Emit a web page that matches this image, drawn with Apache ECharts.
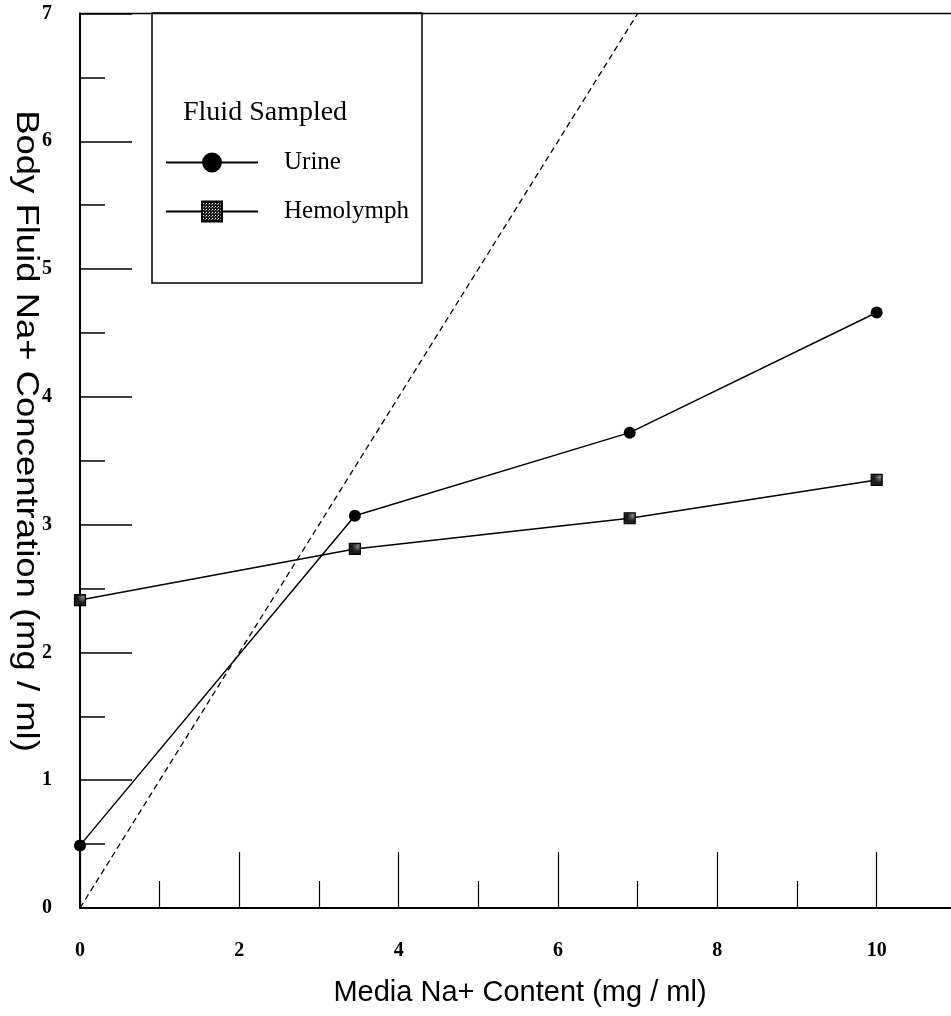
<!DOCTYPE html>
<html>
<head>
<meta charset="utf-8">
<script src="https://cdn.jsdelivr.net/npm/echarts@6/dist/echarts.min.js"></script>
<style>
  html, body { margin: 0; padding: 0; overflow: hidden; background: #fff; }
  #chart { width: 1040px; height: 1016px; }
</style>
</head>
<body>
<div id="chart"></div>
<script>
// Sodium content of the medium (mg/ml)
const mediaNa = [0, 3.45, 6.9, 10];
// Body fluid sodium concentration (mg/ml)
const urineNa = [0.49, 3.07, 3.72, 4.66];
const hemolymphNa = [2.41, 2.81, 3.05, 3.35];
// Line of equal concentration (fluid = medium)
const unityLine = [[0, 0], [7, 7]];
// Tick labels
const xTickLabels = [0, 2, 4, 6, 8, 10];
const yTickLabels = [0, 1, 2, 3, 4, 5, 6, 7];

const seriesNames = ['Urine', 'Hemolymph'];

// Stippled fill for the hemolymph square markers
function stipplePattern() {
  const c = document.createElement('canvas');
  c.width = 3; c.height = 3;
  const g = c.getContext('2d');
  g.fillStyle = '#1a1a1a';
  g.fillRect(0, 0, 3, 3);
  g.fillStyle = '#fff';
  g.fillRect(1, 1, 1, 1);
  g.fillStyle = '#888';
  g.fillRect(0, 2, 1, 1);
  return c;
}

const pairs = (xs, ys) => xs.map((x, i) => [x, ys[i]]);

const chart = echarts.init(document.getElementById('chart'), null, { renderer: 'canvas' });

const serifNum = { fontFamily: '"Liberation Serif", serif', fontWeight: 'bold', fontSize: 20, color: '#000' };

chart.setOption({
  animation: false,
  backgroundColor: '#fff',
  grid: {
    left: 80, right: 4, top: 13.5, bottom: 108,
    show: true, borderColor: '#000', borderWidth: 1.5, backgroundColor: 'transparent'
  },
  xAxis: {
    type: 'value', min: 0, max: 12, interval: 2,
    axisLine: { show: true, lineStyle: { color: '#000', width: 2 } },
    axisTick: { show: true, inside: true, length: 56, lineStyle: { color: '#000', width: 1.2 } },
    minorTick: { show: true, splitNumber: 2, length: 27, lineStyle: { color: '#000', width: 1.2 } },
    splitLine: { show: false },
    axisLabel: Object.assign({
      margin: 33,
      formatter: v => (xTickLabels.indexOf(v) >= 0 ? String(v) : '')
    }, serifNum)
  },
  yAxis: {
    type: 'value', min: 0, max: 7, interval: 1,
    axisLine: { show: true, lineStyle: { color: '#000', width: 2 } },
    axisTick: { show: true, inside: true, length: 52, lineStyle: { color: '#000', width: 1.5 } },
    minorTick: { show: true, splitNumber: 2, length: 25, lineStyle: { color: '#000', width: 1.5 } },
    splitLine: { show: false },
    axisLabel: Object.assign({
      margin: 28,
      formatter: v => (yTickLabels.indexOf(v) >= 0 ? String(v) : '')
    }, serifNum)
  },
  legend: {
    data: seriesNames,
    orient: 'vertical',
    left: 165, top: 150,
    padding: 0,
    itemWidth: 92, itemHeight: 25, itemGap: 24,
    textStyle: { fontFamily: '"Liberation Serif", serif', fontSize: 25, color: '#000', padding: [0, 0, 0, 21] }
  },
  graphic: [
    {
      type: 'rect', z: 10,
      shape: { x: 152, y: 13, width: 270, height: 270 },
      style: { fill: 'none', stroke: '#000', lineWidth: 1.5 }
    },
    {
      type: 'text', z: 10, x: 183, y: 113,
      style: { text: 'Fluid Sampled', fontFamily: '"Liberation Serif", serif', fontSize: 28, fill: '#000', align: 'left', verticalAlign: 'middle' }
    },
    {
      type: 'text', x: 520, y: 993,
      style: { text: 'Media Na+ Content (mg / ml)', fontFamily: '"Liberation Sans", Arial, sans-serif', fontSize: 29, fill: '#000', align: 'center', verticalAlign: 'middle' }
    },
    {
      type: 'text', x: 26, y: 431, rotation: -Math.PI / 2, scaleX: 1.14,
      style: { text: 'Body Fluid Na+ Concentration (mg / ml)', fontFamily: '"Liberation Sans", Arial, sans-serif', fontSize: 32, fill: '#000', align: 'center', verticalAlign: 'middle' }
    }
  ],
  series: [
    {
      name: 'Equal', type: 'line', data: unityLine, symbol: 'none', silent: true,
      lineStyle: { color: '#000', width: 1.3, type: [6, 4] }, z: 1
    },
    {
      name: seriesNames[0], type: 'line', data: pairs(mediaNa, urineNa),
      symbol: 'circle', symbolSize: 12,
      itemStyle: { color: '#000' },
      lineStyle: { color: '#000', width: 1.5 }, z: 3
    },
    {
      name: seriesNames[1], type: 'line', data: pairs(mediaNa, hemolymphNa),
      symbol: 'rect', symbolSize: 11,
      itemStyle: { color: { image: stipplePattern(), repeat: 'repeat' }, borderColor: '#000', borderWidth: 1.2 },
      lineStyle: { color: '#000', width: 1.5 }, z: 2
    }
  ]
});
</script>
</body>
</html>
